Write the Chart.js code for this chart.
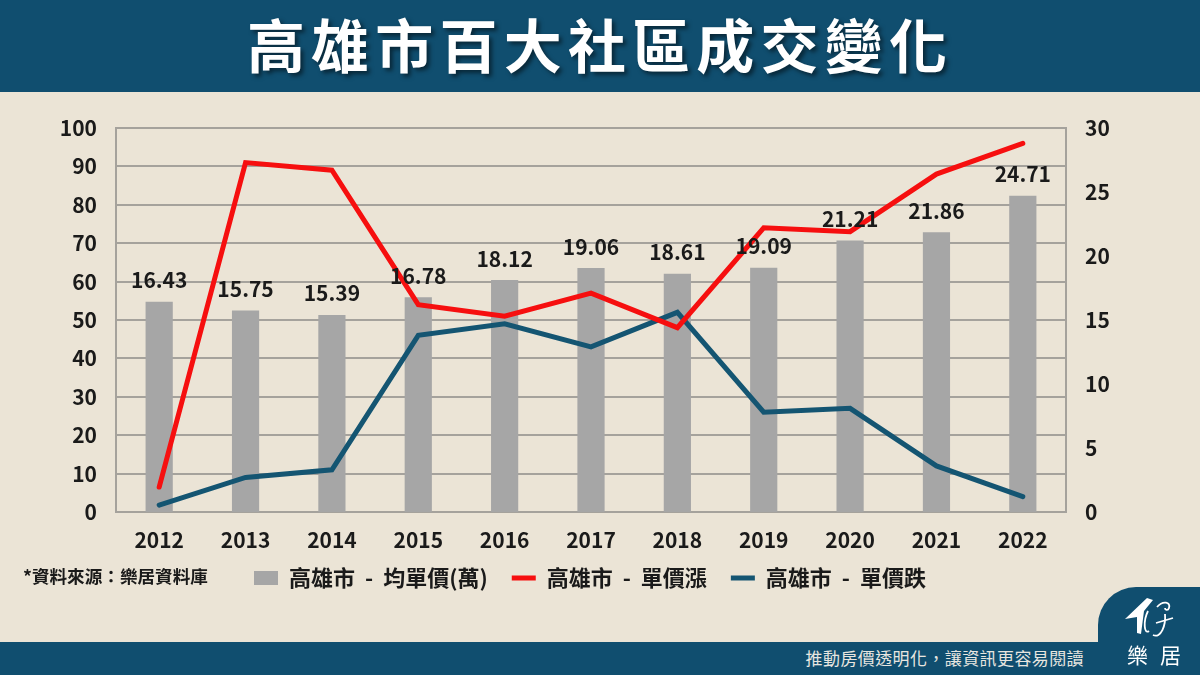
<!DOCTYPE html>
<html lang="zh-Hant">
<head>
<meta charset="utf-8">
<script src="https://cdn.jsdelivr.net/npm/chart.js@4"></script>
<style>
html,body{margin:0;padding:0;background:#ebe4d6;}
#page{position:relative;width:1200px;height:675px;overflow:hidden;background:#ebe4d6;font-family:"Noto Sans CJK TC",sans-serif;}
#head{position:absolute;left:0;top:0;width:1200px;height:92px;background:#104e6f;color:#fff;text-align:center;font-size:58px;font-weight:700;line-height:86px;letter-spacing:6.2px;text-shadow:3px 3px 4px rgba(0,0,0,.5);}
#foot{position:absolute;left:0;top:642px;width:1200px;height:33px;background:#104e6f;}
#slogan{position:absolute;right:116px;top:647px;color:#e8e6e0;font-size:17px;line-height:22px;letter-spacing:.4px;white-space:nowrap;}
#tab{position:absolute;left:1098px;top:587px;width:102px;height:60px;background:#104e6f;border-top-left-radius:38px;}
#brand{position:absolute;left:1127px;top:640px;color:#fff;font-size:21px;line-height:28px;letter-spacing:12px;white-space:nowrap;}
#logo{position:absolute;left:1125px;top:597px;}
#src{position:absolute;left:23px;top:565px;font-size:17.6px;font-weight:700;line-height:22px;color:#1a1a1a;white-space:nowrap;}
#c{position:absolute;left:0;top:92px;}
</style>
</head>
<body>
<div id="page">
<div id="head">高雄市百大社區成交變化</div>
<canvas id="c" width="1180" height="507" style="width:1180px;height:507px"></canvas>
<div id="src">*資料來源：樂居資料庫</div>
<div id="foot"></div>
<div id="tab"></div>
<div id="slogan">推動房價透明化，讓資訊更容易閱讀</div>
<svg id="logo" width="60" height="44" viewBox="0 0 60 44">
<path d="M0 22 L22 1 L28 3 L19 14 L16 37 L12 36 L12 20 Z" fill="#fff"/>
<path d="M23 14 C18 24 19 38 24 34 M32 10 C38 3 46 5 44 11 C43 14 40 13 40 11 M40 17 C41 28 36 42 28 38 M31 26 L48 21" stroke="#fff" stroke-width="1.8" fill="none"/>
</svg>
<div id="brand">樂居</div>
</div>
<script>
const years = ['2012','2013','2014','2015','2016','2017','2018','2019','2020','2021','2022'];
const avgPrice = [16.43,15.75,15.39,16.78,18.12,19.06,18.61,19.09,21.21,21.86,24.71];
const priceUp = [6.5,91,89,54,51,57,48,74,73,88,96];
const priceDown = [1.8,9,11,46,49,43,52,26,27,12,4];
const seriesNames = ['高雄市  -  均單價(萬)  ','高雄市  -  單價漲  ','高雄市  -  單價跌'];
const leftTicks = [0,10,20,30,40,50,60,70,80,90,100];
const rightTicks = [0,5,10,15,20,25,30];

const fontFamily = '"Noto Sans CJK TC", sans-serif';
const inkColor = '#1a1a1a';
const gridColor = '#a5a29c';
const tickFont = {family:fontFamily,size:21,weight:'700'};

const barLabels = {
  id: 'barLabels',
  afterDatasetsDraw(chart) {
    const ctx = chart.ctx;
    const meta = chart.getDatasetMeta(2);
    ctx.save();
    ctx.font = '700 21px ' + fontFamily;
    ctx.fillStyle = inkColor;
    ctx.textAlign = 'center';
    ctx.textBaseline = 'bottom';
    meta.data.forEach((bar, i) => {
      ctx.fillText(avgPrice[i].toFixed(2), bar.x, bar.y - 11);
    });
    ctx.restore();
  }
};

new Chart(document.getElementById('c'), {
  type: 'bar',
  data: {
    labels: years,
    datasets: [
      {type:'line',label:seriesNames[1],data:priceUp,yAxisID:'y',borderColor:'#f60f0f',backgroundColor:'#f60f0f',borderWidth:5,pointRadius:0,tension:0,borderCapStyle:'round',borderJoinStyle:'miter',pointStyle:'line',order:1},
      {type:'line',label:seriesNames[2],data:priceDown,yAxisID:'y',borderColor:'#145572',backgroundColor:'#145572',borderWidth:5,pointRadius:0,tension:0,borderCapStyle:'round',borderJoinStyle:'miter',pointStyle:'line',order:1},
      {type:'bar',label:seriesNames[0],data:avgPrice,yAxisID:'y1',backgroundColor:'#a6a6a6',barPercentage:1,categoryPercentage:0.315,order:2,pointStyle:'rect'}
    ]
  },
  options: {
    responsive:false,
    animation:false,
    devicePixelRatio:1,
    layout:{padding:{left:0,right:0,top:36,bottom:0}},
    plugins:{
      legend:{
        position:'bottom',
        labels:{
          font:{family:fontFamily,size:22,weight:'700'},
          color:inkColor,
          usePointStyle:true,
          pointStyleWidth:24,
          boxHeight:14,
          padding:14,
          sort:(a,b)=>[2,0,1].indexOf(a.datasetIndex)-[2,0,1].indexOf(b.datasetIndex)
        }
      },
      tooltip:{enabled:false}
    },
    scales:{
      x:{
        offset:true,
        afterFit(s){s.height=41;},
        grid:{display:false,drawTicks:false},
        border:{color:gridColor,width:2},
        ticks:{color:inkColor,font:tickFont,padding:15,maxRotation:0,autoSkip:false}
      },
      y:{
        position:'left',min:0,max:100,
        afterFit(s){s.width=116;},
        afterBuildTicks(s){s.ticks=leftTicks.map(v=>({value:v}));},
        grid:{color:gridColor,lineWidth:2,drawTicks:false},
        border:{color:gridColor,width:2},
        ticks:{color:inkColor,font:tickFont,padding:19}
      },
      y1:{
        position:'right',min:0,max:30,
        afterFit(s){s.width=114;},
        afterBuildTicks(s){s.ticks=rightTicks.map(v=>({value:v}));},
        grid:{display:false,drawTicks:false},
        border:{color:gridColor,width:2},
        ticks:{color:inkColor,font:tickFont,padding:19}
      }
    }
  },
  plugins:[barLabels]
});
</script>
</body>
</html>
